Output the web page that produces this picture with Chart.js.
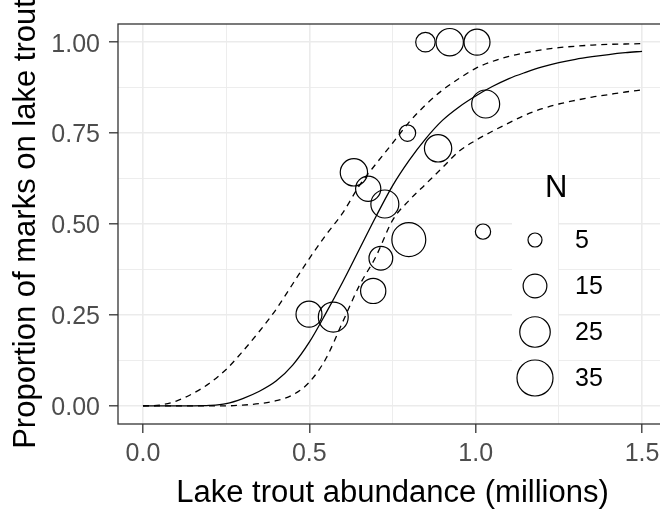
<!DOCTYPE html>
<html>
<head>
<meta charset="utf-8">
<script src="https://cdn.jsdelivr.net/npm/chart.js@4.4.1/dist/chart.umd.min.js"></script>
<style>
  html, body { margin: 0; padding: 0; background: #fff; }
  body { width: 660px; height: 509px; overflow: hidden; }
  canvas { display: block; }
</style>
</head>
<body>
<canvas id="chart" width="700" height="509"></canvas>
<script>
const FONT = "'Liberation Sans', Arial, sans-serif";

// observed points
const ABUNDANCE = [0.499, 0.572, 0.634, 0.677, 0.692, 0.715, 0.727, 0.795, 0.799, 0.849, 0.887, 0.922, 1.004, 1.022, 1.030];
const PROPORTION = [0.252, 0.244, 0.642, 0.597, 0.316, 0.406, 0.555, 0.750, 0.457, 1.000, 0.708, 1.000, 1.000, 0.479, 0.830];
const N = [18, 24, 20, 17, 17, 15, 21, 7, 31, 10, 20, 20, 18, 6, 21];

// fitted curve and its bounds
const CURVE_X = [0, 0.05, 0.1, 0.15, 0.2, 0.25, 0.3, 0.35, 0.4, 0.45, 0.5, 0.55, 0.6, 0.65, 0.7, 0.75,
  0.8, 0.85, 0.9, 0.95, 1.0, 1.05, 1.1, 1.15, 1.2, 1.25, 1.3, 1.35, 1.4, 1.45, 1.5];
const FIT = [0, 0, 0, 0, 0.001, 0.006, 0.02, 0.04, 0.068, 0.112, 0.175, 0.255, 0.34, 0.43, 0.52, 0.605,
  0.675, 0.735, 0.785, 0.822, 0.852, 0.878, 0.9, 0.917, 0.932, 0.944, 0.953, 0.96, 0.966, 0.971, 0.975];
const LOWER = [0, 0, 0, 0, 0, 0, 0.002, 0.006, 0.014, 0.03, 0.065, 0.13, 0.23, 0.33, 0.41, 0.51,
  0.565, 0.61, 0.655, 0.7, 0.73, 0.755, 0.778, 0.8, 0.817, 0.83, 0.84, 0.849, 0.856, 0.863, 0.869];
const UPPER = [0, 0.002, 0.013, 0.034, 0.062, 0.1, 0.15, 0.205, 0.265, 0.335, 0.405, 0.47, 0.53, 0.605, 0.665, 0.722,
  0.78, 0.828, 0.868, 0.9, 0.928, 0.947, 0.961, 0.971, 0.979, 0.985, 0.989, 0.992, 0.994, 0.995, 0.996];

const X_TICKS = [0, 0.5, 1.0, 1.5];
const X_TICK_LABELS = ['0.0', '0.5', '1.0', '1.5'];
const X_MINOR = [0.25, 0.75, 1.25];
const Y_TICKS = [0, 0.25, 0.5, 0.75, 1.0];
const Y_TICK_LABELS = ['0.00', '0.25', '0.50', '0.75', '1.00'];
const Y_MINOR = [0.125, 0.375, 0.625, 0.875];

const LEGEND_N = [5, 15, 25, 35];

function radiusFor(n) {
  return Math.sqrt(3.2 + 9.17 * n);
}

function curve(ys) {
  return CURVE_X.map((x, i) => ({ x, y: ys[i] }));
}

function gridFor(major) {
  const isMajor = (ctx) => ctx.tick && major.includes(ctx.tick.value);
  return {
    color: '#EBEBEB',
    lineWidth: (ctx) => (isMajor(ctx) ? 1.6 : 0.9),
    tickColor: (ctx) => (isMajor(ctx) ? '#333333' : 'rgba(0,0,0,0)'),
    tickWidth: 1.3,
    tickLength: 9,
  };
}

const panelAndLegend = {
  id: 'panelAndLegend',
  afterDraw(chart) {
    const { ctx, chartArea: a } = chart;
    ctx.save();
    ctx.strokeStyle = '#333333';
    ctx.lineWidth = 1.3;
    ctx.strokeRect(a.left, a.top, a.right - a.left, a.bottom - a.top);

    ctx.fillStyle = '#fff';
    ctx.fillRect(512, 217, 46, 46 * LEGEND_N.length);
    ctx.fillStyle = '#000';
    ctx.font = `31px ${FONT}`;
    ctx.textBaseline = 'alphabetic';
    ctx.fillText('N', 545, 197);
    ctx.font = `25px ${FONT}`;
    ctx.textBaseline = 'middle';
    LEGEND_N.forEach((n, i) => {
      const cy = 240 + 46 * i;
      ctx.beginPath();
      ctx.arc(535, cy, radiusFor(n), 0, Math.PI * 2);
      ctx.strokeStyle = '#000';
      ctx.lineWidth = 1.2;
      ctx.stroke();
      ctx.fillText(String(n), 575, cy + 1);
    });
    ctx.restore();
  },
};

const lineStyle = { type: 'line', borderColor: '#000', borderWidth: 1.3, pointRadius: 0, fill: false, cubicInterpolationMode: 'monotone' };

new Chart(document.getElementById('chart'), {
  type: 'scatter',
  data: {
    datasets: [
      {
        data: ABUNDANCE.map((x, i) => ({ x, y: PROPORTION[i] })),
        pointRadius: (ctx) => radiusFor(N[ctx.dataIndex]),
        pointBackgroundColor: 'rgba(0,0,0,0)',
        pointBorderColor: '#000',
        pointBorderWidth: 1.2,
      },
      { ...lineStyle, data: curve(FIT) },
      { ...lineStyle, data: curve(LOWER), borderDash: [6, 5] },
      { ...lineStyle, data: curve(UPPER), borderDash: [6, 5] },
    ],
  },
  options: {
    responsive: false,
    animation: false,
    events: [],
    layout: { padding: { left: 0, top: 23, right: 33, bottom: 0 } },
    plugins: { legend: { display: false }, tooltip: { enabled: false } },
    scales: {
      x: {
        type: 'linear',
        min: -0.075,
        max: 1.575,
        afterBuildTicks: (s) => { s.ticks = [...X_TICKS, ...X_MINOR].sort((a, b) => a - b).map((v) => ({ value: v })); },
        afterFit: (s) => { s.height = 85; },
        grid: gridFor(X_TICKS),
        border: { display: false },
        ticks: {
          autoSkip: false,
          maxRotation: 0,
          padding: 6,
          color: '#4D4D4D',
          font: { family: FONT, size: 25 },
          callback: (v) => { const i = X_TICKS.indexOf(v); return i >= 0 ? X_TICK_LABELS[i] : ''; },
        },
        title: {
          display: true,
          text: 'Lake trout abundance (millions)',
          color: '#000',
          font: { family: FONT, size: 31, lineHeight: 1 },
          padding: { top: 0, bottom: 0 },
        },
      },
      y: {
        type: 'linear',
        min: -0.05,
        max: 1.05,
        afterBuildTicks: (s) => { s.ticks = [...Y_TICKS, ...Y_MINOR].sort((a, b) => a - b).map((v) => ({ value: v })); },
        afterFit: (s) => { s.width = 118; },
        grid: gridFor(Y_TICKS),
        border: { display: false },
        ticks: {
          autoSkip: false,
          padding: 9,
          labelOffset: 2.5,
          color: '#4D4D4D',
          font: { family: FONT, size: 25 },
          callback: (v) => { const i = Y_TICKS.indexOf(v); return i >= 0 ? Y_TICK_LABELS[i] : ''; },
        },
        title: {
          display: true,
          text: 'Proportion of marks on lake trout',
          color: '#000',
          font: { family: FONT, size: 31, lineHeight: 1 },
          padding: { top: 11, bottom: 0 },
        },
      },
    },
  },
  plugins: [panelAndLegend],
});
</script>
</body>
</html>
